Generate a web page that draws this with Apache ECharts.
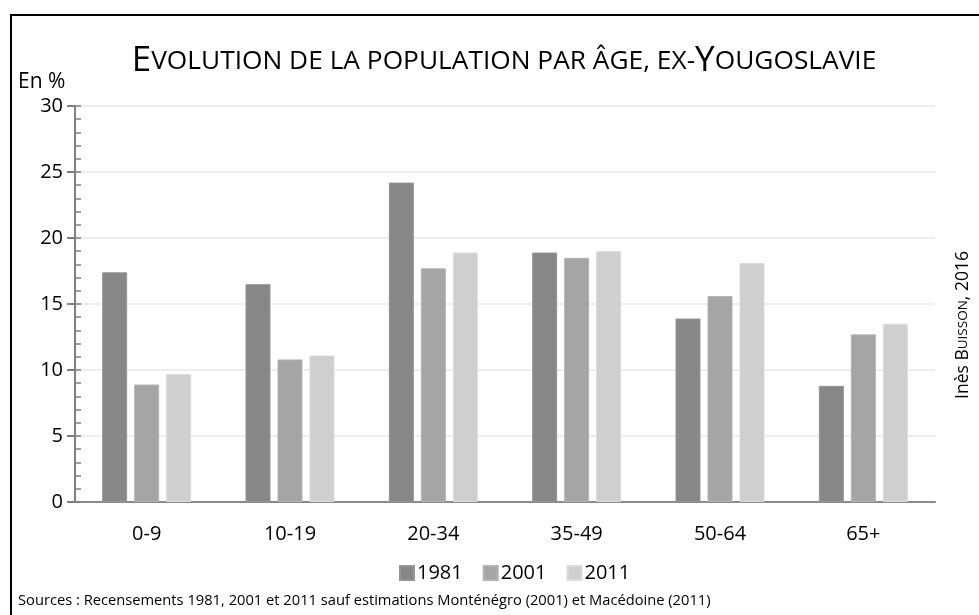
<!DOCTYPE html>
<html>
<head>
<meta charset="utf-8">
<script src="https://cdn.jsdelivr.net/npm/echarts@6/dist/echarts.min.js"></script>
<style>html,body{margin:0;padding:0;background:#fff}#c{width:979px;height:615px}</style>
</head>
<body>
<div id="c"></div>
<script>
const categories = ['0-9', '10-19', '20-34', '35-49', '50-64', '65+'];
const years = ['1981', '2001', '2011'];
const v1981 = [17.4, 16.5, 24.2, 18.9, 13.9, 8.8];
const v2001 = [8.9, 10.8, 17.7, 18.5, 15.6, 12.7];
const v2011 = [9.7, 11.1, 18.9, 19.0, 18.1, 13.5];
const yTicks = [0, 5, 10, 15, 20, 25, 30];
const colors = ['#878787', '#a5a5a5', '#d0cfd0'];
const borders = ['#959595', '#b3b3b3', '#dcdbdc'];

const FONT = 'Open Sans';
const chart = echarts.init(document.getElementById('c'), null, {renderer: 'canvas'});
const seriesVals = [v1981, v2001, v2011];

chart.setOption({
  animation: false,
  backgroundColor: '#fff',
  textStyle: {fontFamily: FONT},
  title: {
    text: '{b|E}{s|VOLUTION DE LA POPULATION PAR ÂGE, EX-}{b|Y}{s|OUGOSLAVIE}',
    left: 499, top: 39, textAlign: 'center',
    textStyle: {
      fontWeight: 'normal',
      rich: {
        b: {fontSize: 35, fontFamily: FONT, fontWeight: 'normal', color: '#000'},
        s: {fontSize: 26.3, fontFamily: FONT, fontWeight: 'normal', color: '#000'}
      }
    }
  },
  grid: {left: 75, right: 44, top: 106, bottom: 113, containLabel: false},
  legend: {
    data: years,
    left: 394, top: 558,
    itemWidth: 14, itemHeight: 14, itemGap: 20,
    icon: 'rect',
    textStyle: {fontSize: 20, fontFamily: FONT, color: '#000', padding: [0,0,0,-2]}
  },
  xAxis: {
    type: 'category',
    data: categories,
    axisLine: {lineStyle: {color: '#8a8a8a', width: 2}},
    axisTick: {show: false},
    axisLabel: {fontSize: 20, fontFamily: FONT, color: '#000', margin: 22}
  },
  yAxis: [{
    type: 'value', min: 0, max: 30, interval: 5,
    axisLine: {show: true, lineStyle: {color: '#7f7f7f', width: 2}},
    axisTick: {show: true, inside: false, length: 8, lineStyle: {color: '#7f7f7f', width: 2}},
    axisLabel: {fontSize: 20, fontFamily: FONT, color: '#000', margin: 12,
      formatter: v => yTicks.includes(v) ? String(v) : ''},
    splitLine: {show: true, lineStyle: {color: '#eeeeee', width: 2}}
  }, {
    type: 'value', min: 0, max: 30, interval: 1, position: 'left',
    axisLine: {show: false},
    axisTick: {show: true, inside: true, length: 6, lineStyle: {color: '#7f7f7f', width: 1.5}},
    axisLabel: {show: false},
    splitLine: {show: false}
  }],
  series: years.map((y, i) => ({
    name: y, type: 'bar', yAxisIndex: 0,
    data: seriesVals[i],
    barWidth: 25, barGap: '28%', barCategoryGap: '30%',
    itemStyle: {color: colors[i], borderColor: borders[i], borderWidth: 1}
  })),
  graphic: [
    {type: 'line', shape: {x1: 11, y1: 15, x2: 11, y2: 615}, style: {stroke: '#000', lineWidth: 2}},
    {type: 'line', shape: {x1: 10, y1: 15, x2: 979, y2: 15}, style: {stroke: '#000', lineWidth: 2}},
    {type: 'text', left: 18, top: 72, style: {text: 'En %', fontSize: 21, fontFamily: FONT, fill: '#000'}},
    {type: 'text', left: 18, top: 593,
      style: {text: 'Sources : Recensements 1981, 2001 et 2011 sauf estimations Monténégro (2001) et Macédoine (2011)',
        fontSize: 14.7, fontFamily: FONT, fill: '#000'}},
    {type: 'text', x: 963, y: 325, rotation: Math.PI / 2,
      style: {text: '{n|Inès B}{s|UISSON}{n|, 2016}', align: 'center', verticalAlign: 'middle',
        rich: {n: {fontSize: 17.5, fontFamily: FONT, fill: '#000'}, s: {fontSize: 13.5, fontFamily: FONT, fill: '#000'}}}}
  ]
});
</script>
</body>
</html>
